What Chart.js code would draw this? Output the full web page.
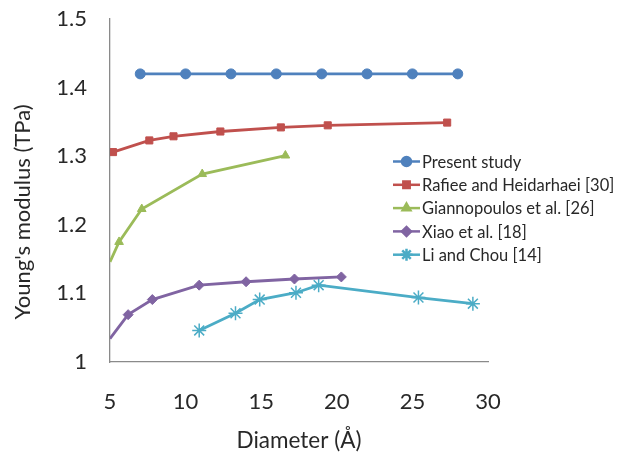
<!DOCTYPE html>
<html>
<head>
<meta charset="utf-8">
<script src="https://cdn.jsdelivr.net/npm/chart.js@4"></script>
<style>
	html, body { margin: 0; padding: 0; background: #fff; }
	#wrap { width: 621px; height: 454px; }
</style>
</head>
<body>
<div id="wrap"><canvas id="myChart" width="621" height="454"></canvas></div>
<script>
// Datos
const seriesNames = ['Present study', 'Rafiee and Heidarhaei [30]', 'Giannopoulos et al. [26]', 'Xiao et al. [18]', 'Li and Chou [14]'];

const presentX = [7, 10, 13, 16, 19, 22, 25, 28];
const presentY = [1.42, 1.42, 1.42, 1.42, 1.42, 1.42, 1.42, 1.42];

const rafieeX = [5.2, 7.6, 9.2, 12.3, 16.3, 19.4, 27.3];
const rafieeY = [1.306, 1.323, 1.329, 1.336, 1.342, 1.345, 1.349];

const giannoX = [5, 5.6, 7.1, 11.1, 16.6];
const giannoY = [1.146, 1.175, 1.223, 1.274, 1.301];

const xiaoX = [5, 6.2, 7.8, 10.9, 14, 17.2, 20.3];
const xiaoY = [1.034, 1.069, 1.091, 1.112, 1.117, 1.121, 1.124];

const liX = [10.9, 13.3, 14.9, 17.3, 18.8, 25.4, 29];
const liY = [1.046, 1.071, 1.091, 1.101, 1.112, 1.094, 1.085];

const xTicks = [5, 10, 15, 20, 25, 30];
const yTicks = [1, 1.1, 1.2, 1.3, 1.4, 1.5];

const xTitle = 'Diameter (Å)';
const yTitle = "Young's modulus (TPa)";

(function () {

	const ctx = document.getElementById('myChart');
	const fuente = 'Lato, "Open Sans", sans-serif';
	const textoColor = '#282828';

	function puntos(xs, ys) {
		return xs.map((x, i) => ({ x: x, y: ys[i] }));
	}

	const colores = ['#4F81BD', '#C0504D', '#9BBB59', '#8064A2', '#4BACC6'];
	const marcas = ['circle', 'rect', 'triangle', 'rectRot', 'star'];
	const datos = [
		puntos(presentX, presentY),
		puntos(rafieeX, rafieeY),
		puntos(giannoX, giannoY),
		puntos(xiaoX, xiaoY),
		puntos(liX, liY)
	];

	// los puntos sobre el eje no muestran marcador
	const radio = c => (c.parsed && c.parsed.x <= 5 ? 0 : (c.datasetIndex === 4 ? 7 : 5));

	// leyenda dentro del area del grafico + titulo del eje y
	const leyenda = {
		id: 'leyendaDentro',
		afterDraw(chart) {
			const c = chart.ctx;
			c.save();
			c.font = '16.5px ' + fuente;
			c.textBaseline = 'middle';
			c.textAlign = 'left';
			chart.data.datasets.forEach((ds, i) => {
				const y = 161.5 + i * 23.3;
				c.strokeStyle = ds.borderColor;
				c.lineWidth = 2.5;
				c.beginPath();
				c.moveTo(393, y);
				c.lineTo(420, y);
				c.stroke();
				c.fillStyle = ds.borderColor;
				Chart.helpers.drawPoint(c, {
					pointStyle: ds.pointStyle,
					radius: i === 4 ? 6 : 4.5,
					borderWidth: i === 4 ? 1.5 : 1
				}, 406.5, y);
				c.fillStyle = textoColor;
				c.fillText(ds.label, 422, y + 1);
			});

			c.translate(23, 212);
			c.rotate(-Math.PI / 2);
			c.textAlign = 'center';
			c.font = '22px ' + fuente;
			c.fillText(yTitle, 0, 0);
			c.restore();
		}
	};

	new Chart(ctx, {
		type: 'line',
		data: {
			datasets: datos.map((d, i) => ({
				label: seriesNames[i],
				data: d,
				borderColor: colores[i],
				backgroundColor: colores[i],
				borderWidth: 2.8,
				pointStyle: marcas[i],
				pointRadius: radio,
				pointBorderWidth: i === 4 ? 1.5 : 1,
				pointBorderColor: colores[i],
				pointBackgroundColor: colores[i],
				tension: 0,
				fill: false
			}))
		},
		options: {
			responsive: false,
			animation: false,
			layout: { padding: { left: 0, right: 133, top: 19, bottom: 0 } },
			plugins: {
				legend: { display: false },
				tooltip: { enabled: false }
			},
			scales: {
				x: {
					type: 'linear',
					min: 5,
					max: 30,
					afterBuildTicks: s => { s.ticks = xTicks.map(v => ({ value: v })); },
					afterFit: s => { s.height = 92; },
					grid: { display: false, drawTicks: true, tickLength: 7, tickColor: '#8a8a8a' },
					border: { color: '#8a8a8a', width: 1.3 },
					ticks: { color: textoColor, font: { family: fuente, size: 22 }, padding: 20, maxRotation: 0 },
					title: { display: true, text: xTitle, color: textoColor, font: { family: fuente, size: 22.5 }, padding: { top: 0, bottom: 0 } }
				},
				y: {
					type: 'linear',
					min: 1,
					max: 1.5,
					afterBuildTicks: s => { s.ticks = yTicks.map(v => ({ value: v })); },
					afterFit: s => { s.width = 110; s.paddingTop = 0; s.paddingBottom = 0; },
					grid: { display: false, drawTicks: true, tickLength: 5, tickColor: '#8a8a8a' },
					border: { color: '#8a8a8a', width: 1.3 },
					ticks: {
						color: textoColor,
						font: { family: fuente, size: 22 },
						padding: 18,
						callback: v => String(Math.round(v * 10) / 10)
					}
				}
			}
		},
		plugins: [leyenda]
	});

})();
</script>
</body>
</html>
